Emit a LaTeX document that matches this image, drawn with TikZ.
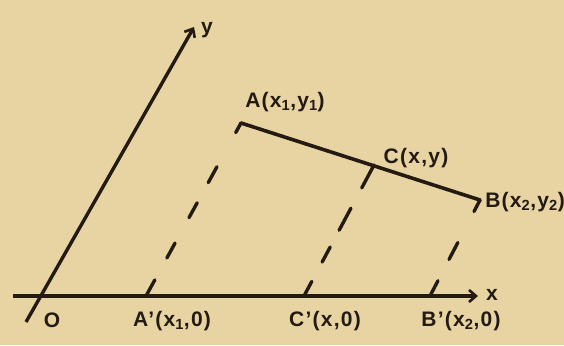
\documentclass[tikz,border=0pt]{standalone}
\usepackage{fontspec}
\setmainfont{Liberation Sans}[LetterSpace=6]
\usetikzlibrary{arrows.meta}
\definecolor{paper}{RGB}{232,212,162}
\definecolor{ink}{RGB}{35,26,18}
\begin{document}
\begin{tikzpicture}[x=1pt,y=-1pt,
  axis/.style={ink,line width=3.4pt,-{Straight Barb[length=7pt,width=12pt,line width=2.6pt]}},
  seg/.style={ink,line width=3.6pt,line cap=round},
  proj/.style={ink,line width=3.4pt,line cap=round},
  lbl/.style={text=ink,font=\fontsize{21}{21}\selectfont\bfseries,inner sep=0pt}]
\fill[paper] (0,0) rectangle (564,345);
\useasboundingbox (0,0) rectangle (564,345);
% points
\coordinate (xs) at (13,296);
\coordinate (xe) at (478,296);
\coordinate (ys) at (26,322);
\coordinate (ye) at (194,27);
\coordinate (A) at (241,123);
\coordinate (B) at (480,200);
\coordinate (C) at (374,165);
\coordinate (Ap) at (146,296);
\coordinate (Cp) at (304,296);
\coordinate (Bp) at (430,296);
% axes
\draw[axis] (xs) -- (xe);
\draw[axis] (ys) -- (ye);
% segment AB
\draw[seg] (A) -- (B);
% projections
\draw[proj,dash pattern=on 11pt off 39pt on 18pt off 23pt on 17pt off 29pt on 17pt off 25pt on 18pt off 10pt] (A) -- (Ap);
\draw[proj,dash pattern=on 26pt off 23pt on 25pt off 19pt on 17pt off 22pt on 17pt off 10pt] (C) -- (Cp);
\draw[proj,dash pattern=on 13pt off 35pt on 19pt off 24pt on 17pt off 10pt] (B) -- (Bp);
% labels
\node[lbl] (lx) at (492,295) {x};
\node[lbl] (ly) at (207,30) {y};
\node[lbl] (lO) at (52,320) {O};
\node[lbl] (lA) at (285,102) {A(x\textsubscript{1},y\textsubscript{1})};
\node[lbl] (lC) at (416,158) {C(x,y)};
\node[lbl] (lB) at (525,202) {B(x\textsubscript{2},y\textsubscript{2})};
\node[lbl] (lAp) at (172,321) {A'(x\textsubscript{1},0)};
\node[lbl] (lCp) at (325,321) {C'(x,0)};
\node[lbl] (lBp) at (461,321) {B'(x\textsubscript{2},0)};
\end{tikzpicture}
\end{document}
